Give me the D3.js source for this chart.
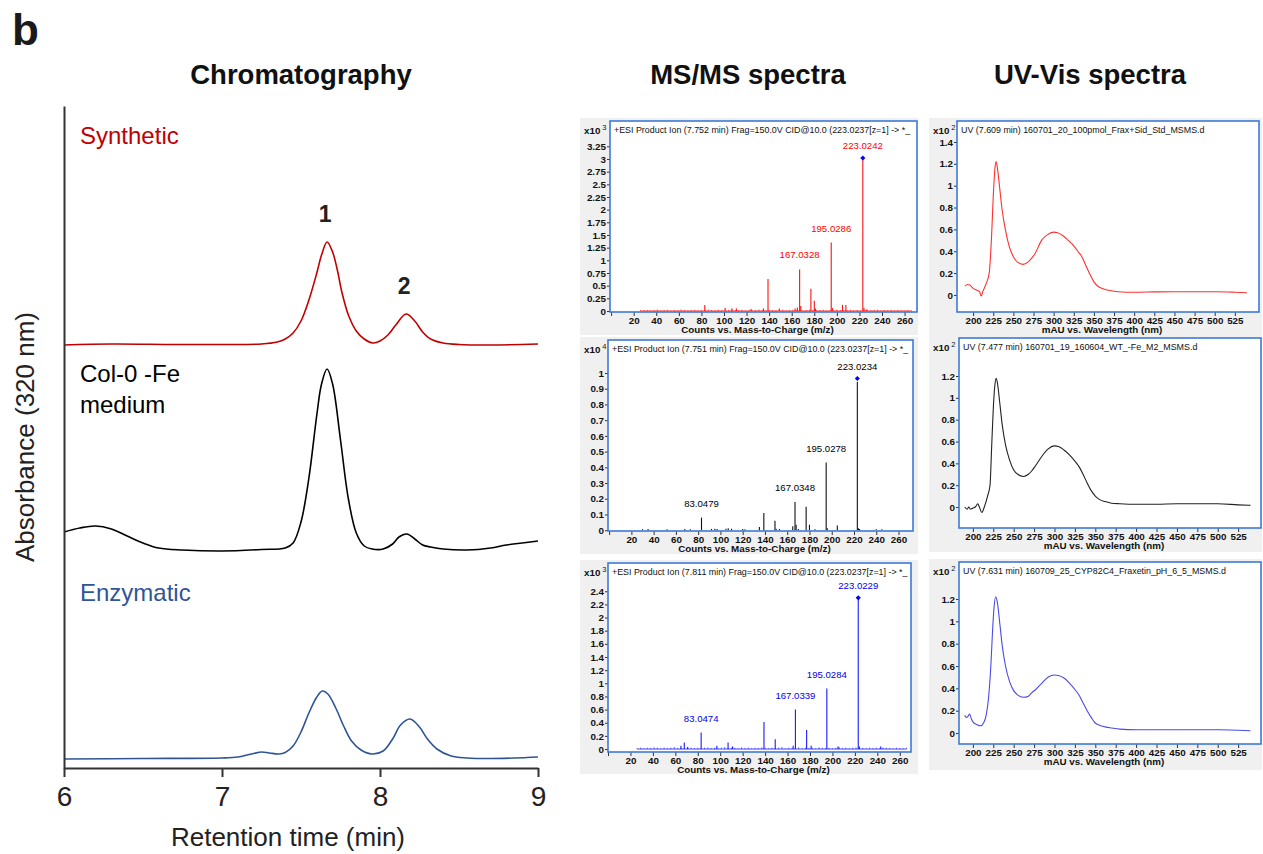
<!DOCTYPE html>
<html>
<head>
<meta charset="utf-8">
<script src="https://cdn.jsdelivr.net/npm/d3@7"></script>
<style>
  body { margin: 0; background: #fff; }
  svg { display: block; font-family: "Liberation Sans", Arial, sans-serif; }
</style>
</head>
<body>
<script>
// ---- chromatography (retention time, absorbance in arbitrary stacked units)
const chromTicks = [6, 7, 8, 9];
const synthetic = [[6.0,423],[6.3,424],[6.7,423.5],[7.0,423.5],[7.25,424],[7.35,426],[7.4,429],[7.45,435],[7.5,447],[7.55,468],[7.6,495],[7.63,513],[7.665,526],[7.7,516],[7.73,498],[7.76,475],[7.8,453],[7.85,437],[7.9,429],[7.955,425],[8.0,427],[8.05,433],[8.1,443],[8.165,454],[8.22,447],[8.27,436],[8.32,429],[8.4,425],[8.5,423.5],[8.7,423],[9.0,424]];
const medium = [[6.0,236],[6.1,240],[6.2,242],[6.3,239],[6.4,232],[6.5,225],[6.6,220],[6.75,218],[7.0,217],[7.25,218.5],[7.4,220],[7.45,225],[7.5,246],[7.55,290],[7.6,353],[7.63,384],[7.665,399],[7.7,384],[7.75,328],[7.8,269],[7.85,235],[7.9,222],[7.95,219],[8.02,219],[8.08,224],[8.12,231],[8.17,234],[8.22,229],[8.27,223],[8.32,221],[8.4,219],[8.55,218],[8.7,220],[8.8,223],[9.0,227]];
const enzymatic = [[6.0,9],[6.5,9.5],[7.0,10],[7.1,11],[7.2,14.5],[7.25,16],[7.3,15],[7.36,14],[7.4,15.5],[7.45,22],[7.5,36],[7.55,55],[7.6,71],[7.635,77],[7.67,74],[7.72,60],[7.77,42],[7.82,27],[7.88,18],[7.95,14],[8.02,17],[8.08,29],[8.13,43],[8.19,49],[8.25,41],[8.3,29],[8.36,19],[8.45,12],[8.55,10],[8.7,9.5],[8.85,10],[9.0,11]];
const peakNumbers = [[7.665, 526, '1'], [8.165, 454, '2']];

// ---- MS/MS spectra: [m/z, counts]
const mzTicks = [0,20,40,60,80,100,120,140,160,180,200,220,240,260];
const msSynthetic = [[83,0.12],[101,0.06],[107,0.05],[111,0.05],[124,0.04],[135,0.05],[139,0.63],[149,0.05],[163,0.05],[165,0.07],[167,0.82],[168,0.1],[177,0.44],[180,0.2],[181,0.05],[195,1.35],[196,0.06],[205,0.12],[208,0.12],[223,3.0],[224,0.06],[226,0.03]];
const msMedium = [[30,0.006],[35,0.008],[52,0.006],[68,0.008],[73,0.006],[83,0.08],[92,0.008],[95,0.01],[97,0.008],[105,0.01],[107,0.012],[110,0.01],[120,0.008],[122,0.006],[135,0.02],[139,0.11],[149,0.06],[150,0.01],[153,0.008],[165,0.025],[167,0.18],[168,0.035],[170,0.008],[177,0.15],[180,0.035],[185,0.006],[195,0.43],[196,0.012],[205,0.03],[223,0.945],[224,0.012],[225,0.008],[240,0.006],[245,0.006]];
const msEnzymatic = [[65,0.05],[68,0.1],[71,0.03],[83,0.25],[97,0.05],[107,0.1],[111,0.04],[139,0.41],[149,0.15],[165,0.05],[167,0.6],[177,0.29],[181,0.05],[195,0.92],[205,0.04],[223,2.27],[224,0.04],[243,0.04]];
const grassStart = 26, grassStep = 3;
const grassSynthetic = [0.02,0.015,0.02,0.01,0.02,0.03,0.015,0.02,0.025,0.01,0.02,0.015,0.03,0.02,0.01,0.02,0.025,0.015,0.02,0.01,0.03,0.02,0.015,0.025,0.02,0.01,0.02,0.03,0.015,0.02,0.025,0.01,0.02,0.015,0.02,0.03,0.02,0.01,0.025,0.02,0.015,0.02,0.03,0.01,0.02,0.025,0.015,0.02,0.01,0.02,0.03,0.02,0.015,0.02,0.025,0.01,0.02,0.015,0.03,0.02,0.01,0.02,0.025,0.015,0.02,0.01,0.02,0.03,0.015,0.02,0.025,0.01,0.02,0.015,0.02,0.01,0.02,0.015,0.01,0.02,0.015];
const grassEnzymatic = [0.015,0.02,0.01,0.02,0.015,0.025,0.02,0.01,0.02,0.015,0.02,0.03,0.015,0.02,0.01,0.025,0.02,0.015,0.02,0.01,0.02,0.025,0.015,0.02,0.01,0.02,0.03,0.015,0.02,0.02,0.01,0.025,0.015,0.02,0.01,0.02,0.015,0.025,0.02,0.01,0.02,0.015,0.02,0.03,0.01,0.02,0.015,0.02,0.025,0.01,0.02,0.015,0.02,0.01,0.025,0.02,0.015,0.02,0.01,0.02,0.03,0.015,0.02,0.01,0.02,0.025,0.015,0.02,0.01,0.02,0.015,0.02,0.01,0.025,0.02,0.015,0.01,0.02,0.015,0.01,0.02];
const labelsSynthetic = [[223,'223.0242'],[195,'195.0286'],[167,'167.0328']];
const labelsMedium = [[223,'223.0234'],[195,'195.0278'],[167,'167.0348'],[83,'83.0479']];
const labelsEnzymatic = [[223,'223.0229'],[195,'195.0284'],[167,'167.0339'],[83,'83.0474']];
const precursorTops = [3.02, 0.965, 2.3];
const msTicksSynthetic = [0,0.25,0.5,0.75,1,1.25,1.5,1.75,2,2.25,2.5,2.75,3,3.25];
const msTicksMedium = [0,0.1,0.2,0.3,0.4,0.5,0.6,0.7,0.8,0.9,1];
const msTicksEnzymatic = [0,0.2,0.4,0.6,0.8,1,1.2,1.4,1.6,1.8,2,2.2,2.4];
const msHeaders = [
  '+ESI Product Ion (7.752 min) Frag=150.0V CID@10.0 (223.0237[z=1] -> *_',
  '+ESI Product Ion (7.751 min) Frag=150.0V CID@10.0 (223.0237[z=1] -> *_',
  '+ESI Product Ion (7.811 min) Frag=150.0V CID@10.0 (223.0237[z=1] -> *_'
];
const msExponents = ['3', '4', '3'];

// ---- UV-Vis spectra: [wavelength nm, mAU x10^2]
const nmTicks = [200,225,250,275,300,325,350,375,400,425,450,475,500,525];
const uvSynthetic = [[190,0.08],[193,0.095],[196,0.09],[200,0.06],[204,0.045],[208,0.03],[210,-0.01],[212,0.03],[216,0.1],[220,0.2],[223,0.55],[225,0.9],[227,1.15],[228.5,1.22],[230,1.17],[233,0.98],[236,0.78],[240,0.6],[245,0.44],[250,0.35],[255,0.3],[262,0.28],[268,0.3],[272,0.33],[277,0.38],[285,0.5],[292,0.55],[300,0.575],[305,0.57],[312,0.54],[318,0.5],[325,0.45],[330,0.4],[335,0.35],[340,0.27],[345,0.19],[350,0.12],[355,0.08],[362,0.055],[370,0.04],[380,0.03],[400,0.025],[425,0.028],[450,0.03],[475,0.03],[500,0.03],[525,0.025],[540,0.02]];
const uvMedium = [[190,0.0],[193,-0.02],[195,0.0],[197,-0.02],[200,-0.01],[203,0.0],[206,0.03],[208,0.0],[211,-0.05],[214,0.0],[218,0.1],[221,0.2],[223,0.55],[225,0.9],[227,1.12],[228.5,1.18],[230,1.14],[233,0.95],[236,0.75],[240,0.57],[245,0.43],[250,0.34],[255,0.3],[262,0.28],[268,0.3],[272,0.33],[277,0.38],[285,0.47],[292,0.53],[300,0.56],[305,0.555],[312,0.52],[318,0.48],[325,0.42],[330,0.37],[335,0.3],[340,0.22],[345,0.15],[350,0.1],[355,0.07],[362,0.05],[370,0.035],[380,0.03],[400,0.025],[425,0.025],[450,0.03],[475,0.03],[500,0.03],[525,0.02],[540,0.015]];
const uvEnzymatic = [[190,0.16],[192,0.14],[194,0.15],[196,0.17],[198,0.13],[200,0.1],[205,0.075],[210,0.065],[213,0.09],[216,0.15],[219,0.3],[222,0.6],[224,0.9],[226,1.13],[228,1.22],[230,1.17],[233,0.98],[236,0.78],[240,0.6],[245,0.46],[250,0.38],[255,0.34],[262,0.32],[268,0.33],[272,0.36],[277,0.39],[285,0.45],[292,0.5],[300,0.52],[305,0.515],[312,0.49],[318,0.45],[325,0.39],[330,0.34],[335,0.27],[340,0.2],[345,0.14],[350,0.09],[355,0.07],[362,0.055],[370,0.045],[380,0.035],[400,0.03],[425,0.03],[450,0.03],[475,0.03],[500,0.03],[525,0.025],[540,0.02]];
const uvTicksSynthetic = [0,0.2,0.4,0.6,0.8,1,1.2,1.4];
const uvTicksOther = [0,0.2,0.4,0.6,0.8,1,1.2];
const uvHeaders = [
  'UV (7.609 min) 160701_20_100pmol_Frax+Sid_Std_MSMS.d',
  'UV (7.477 min) 160701_19_160604_WT_-Fe_M2_MSMS.d',
  'UV (7.631 min) 160709_25_CYP82C4_Fraxetin_pH_6_5_MSMS.d'
];

const svg = d3.select('body').append('svg')
    .attr('width', 1263)
    .attr('height', 854);

svg.append('rect').attr('width', 1263).attr('height', 854).attr('fill', '#fff');

svg.append('text')
    .attr('x', 12).attr('y', 45)
    .attr('font-size', 44).attr('font-weight', 'bold').attr('fill', '#1a1a1a')
    .text('b');

[['Chromatography', 301], ['MS/MS spectra', 748], ['UV-Vis spectra', 1090]].forEach(([t, cx]) => {
    svg.append('text')
        .attr('x', cx).attr('y', 84)
        .attr('text-anchor', 'middle')
        .attr('font-size', 27.5).attr('font-weight', 'bold').attr('fill', '#111')
        .text(t);
});

function drawChromatography() {
    let x = d3.scaleLinear().domain([6, 9]).range([64, 538]);
    let y = d3.scaleLinear().domain([0, 662]).range([768, 106]);
    let line = d3.line()
        .x(d => x(d[0]))
        .y(d => y(d[1]))
        .curve(d3.curveCatmullRom.alpha(0.5));

    let traces = [
        {data: synthetic, color: '#c00000'},
        {data: medium, color: '#000000'},
        {data: enzymatic, color: '#2f5597'}
    ];
    svg.append('g').selectAll('path')
        .data(traces)
        .join('path')
        .attr('d', d => line(d.data))
        .attr('fill', 'none')
        .attr('stroke', d => d.color)
        .attr('stroke-width', 1.6);

    let yAxis = svg.append('g')
        .attr('transform', `translate(${x(6)},0)`)
        .call(d3.axisLeft(y).tickValues([]).tickSizeOuter(0));
    yAxis.select('.domain').attr('stroke', '#333').attr('stroke-width', 2);

    let xAxis = svg.append('g')
        .attr('transform', `translate(0,${y(0)})`)
        .call(d3.axisBottom(x).tickValues(chromTicks).tickFormat(d3.format('d'))
            .tickSize(9).tickSizeOuter(0).tickPadding(9));
    xAxis.select('.domain').attr('stroke', '#333').attr('stroke-width', 2);
    xAxis.selectAll('.tick line').attr('stroke', '#333').attr('stroke-width', 2);
    xAxis.selectAll('.tick text')
        .attr('font-size', 28).attr('fill', '#222')
        .attr('font-family', '"Liberation Sans", Arial, sans-serif');

    svg.append('text')
        .attr('x', 288).attr('y', 846)
        .attr('text-anchor', 'middle')
        .attr('font-size', 26).attr('fill', '#222')
        .text('Retention time (min)');

    svg.append('text')
        .attr('transform', 'translate(34,437) rotate(-90)')
        .attr('text-anchor', 'middle')
        .attr('font-size', 26).attr('fill', '#222')
        .text('Absorbance (320 nm)');

    let names = [
        {lines: ['Synthetic'], y: 144, color: '#c00000'},
        {lines: ['Col-0 -Fe', 'medium'], y: 382, color: '#000'},
        {lines: ['Enzymatic'], y: 601, color: '#2f5597'}
    ];
    names.forEach(n => {
        n.lines.forEach((t, i) => {
            svg.append('text')
                .attr('x', 80).attr('y', n.y + i * 31)
                .attr('font-size', 24).attr('fill', n.color)
                .text(t);
        });
    });

    svg.append('g').selectAll('text')
        .data(peakNumbers)
        .join('text')
        .attr('x', d => x(d[0]) - 2)
        .attr('y', d => y(d[1]) - 20)
        .attr('text-anchor', 'middle')
        .attr('font-size', 23).attr('font-weight', 'bold').attr('fill', '#222')
        .text(d => d[2]);
}

function panelFrame(p) {
    let [bx0, by0, bx1, by1] = p.box;
    let [gx0, gy0, gx1, gy1] = p.bg;
    let g = svg.append('g');
    g.append('rect')
        .attr('x', gx0).attr('y', gy0)
        .attr('width', gx1 - gx0).attr('height', gy1 - gy0)
        .attr('fill', '#f0f0f0');
    g.append('rect')
        .attr('x', bx0).attr('y', by0)
        .attr('width', bx1 - bx0).attr('height', by1 - by0)
        .attr('fill', '#fff');
    return g;
}

function panelAxes(g, p, x, y, xTicks, xFmt) {
    let [bx0, by0, bx1, by1] = p.box;
    let ya = g.append('g')
        .attr('transform', `translate(${bx0},0)`)
        .call(d3.axisLeft(y).tickValues(p.yTicks).tickSize(3).tickPadding(1).tickFormat(d => String(d)));
    let xa = g.append('g')
        .attr('transform', `translate(0,${by1})`)
        .call(d3.axisBottom(x).tickValues(xTicks).tickSize(4).tickPadding(1).tickFormat(xFmt));
    [ya, xa].forEach(a => {
        a.select('.domain').remove();
        a.selectAll('.tick line').attr('stroke', '#333');
        a.selectAll('.tick text')
            .attr('font-size', 9.8).attr('font-weight', 'bold').attr('fill', '#111')
            .attr('font-family', '"Liberation Sans", Arial, sans-serif');
    });

    // frame border
    g.append('rect')
        .attr('x', bx0).attr('y', by0)
        .attr('width', bx1 - bx0).attr('height', by1 - by0)
        .attr('fill', 'none')
        .attr('stroke', '#3f7ad6').attr('stroke-width', 1.6);

    let ex = g.append('text')
        .attr('x', p.bg[0] + 4).attr('y', by0 + 13)
        .attr('font-size', 9.8).attr('font-weight', 'bold').attr('fill', '#111');
    ex.append('tspan').text('x10');
    ex.append('tspan').attr('dx', 2).attr('dy', -4).attr('font-size', 7.5).attr('font-weight', 'normal').text(p.exp);

    g.append('text')
        .attr('x', bx0 + 4).attr('y', by0 + 12)
        .attr('font-size', 8.9).attr('fill', '#111')
        .text(p.header);

    g.append('text')
        .attr('x', (bx0 + bx1) / 2 - 6).attr('y', by1 + 21)
        .attr('text-anchor', 'middle')
        .attr('font-size', 9.8).attr('font-weight', 'bold').attr('fill', '#111')
        .text(p.xLabel);
}

function drawMS(p) {
    let g = panelFrame(p);
    let [bx0, by0, bx1, by1] = p.box;
    let x = d3.scaleLinear().domain(p.xDomain).range([bx0, bx1]);
    let y = d3.scaleLinear().domain(p.yDomain).range([by1, by0]);

    if (p.grass) {
        let grass = p.grass.map((h, i) => [grassStart + i * grassStep, h]);
        g.append('line')
            .attr('x1', x(grass[0][0])).attr('x2', x(grass[grass.length - 1][0]))
            .attr('y1', y(0)).attr('y2', y(0))
            .attr('stroke', p.color).attr('stroke-width', 1).attr('opacity', 0.8);
        g.append('g').selectAll('line')
            .data(grass)
            .join('line')
            .attr('x1', d => x(d[0])).attr('x2', d => x(d[0]))
            .attr('y1', y(0)).attr('y2', d => y(d[1]))
            .attr('stroke', p.color).attr('stroke-width', 1).attr('opacity', 0.7);
    }

    g.append('g').selectAll('line')
        .data(p.peaks)
        .join('line')
        .attr('x1', d => x(d[0])).attr('x2', d => x(d[0]))
        .attr('y1', y(0)).attr('y2', d => y(d[1]))
        .attr('stroke', p.color).attr('stroke-width', 1.1);

    let prec = p.peaks.find(d => d[0] === 223);
    g.append('path')
        .attr('d', d3.symbol(d3.symbolSquare, 13)())
        .attr('transform', `translate(${x(prec[0])},${y(p.precursorTop)}) rotate(45)`)
        .attr('fill', '#0000ff');

    g.append('g').selectAll('text')
        .data(p.labels)
        .join('text')
        .attr('x', d => x(d[0]))
        .attr('y', d => d[0] === 223
            ? y(p.precursorTop) - 9
            : y(p.peaks.find(q => q[0] === d[0])[1]) - 11)
        .attr('text-anchor', 'middle')
        .attr('font-size', 9.6).attr('fill', p.labelColor)
        .text(d => d[1]);

    panelAxes(g, p, x, y, mzTicks, d => d === 0 ? '' : String(d));
}

function drawUV(p) {
    let g = panelFrame(p);
    let [bx0, by0, bx1, by1] = p.box;
    let x = d3.scaleLinear().domain(p.xDomain).range([bx0, bx1]);
    let y = d3.scaleLinear().domain(p.yDomain).range([by1, by0]);
    let line = d3.line()
        .x(d => x(d[0]))
        .y(d => y(d[1]))
        .curve(d3.curveMonotoneX);
    g.append('path')
        .attr('d', line(p.data))
        .attr('fill', 'none')
        .attr('stroke', p.color)
        .attr('stroke-width', 1.1);
    panelAxes(g, p, x, y, nmTicks, d => String(d));
}

drawChromatography();

let msPanels = [
    {peaks: msSynthetic, grass: grassSynthetic, labels: labelsSynthetic, precursorTop: precursorTops[0],
     color: '#ff1010', labelColor: '#ff0000', yTicks: msTicksSynthetic,
     xDomain: [-1, 271], yDomain: [-0.02, 3.75], box: [610, 121, 917, 312], bg: [580, 118, 918, 335]},
    {peaks: msMedium, grass: null, labels: labelsMedium, precursorTop: precursorTops[1],
     color: '#111', labelColor: '#000', yTicks: msTicksMedium,
     xDomain: [-1, 273], yDomain: [-0.005, 1.21], box: [608, 340, 913, 531], bg: [580, 337, 918, 554]},
    {peaks: msEnzymatic, grass: grassEnzymatic, labels: labelsEnzymatic, precursorTop: precursorTops[2],
     color: '#1a1aff', labelColor: '#0000ee', yTicks: msTicksEnzymatic,
     xDomain: [0, 270], yDomain: [-0.045, 2.83], box: [608, 563, 911, 752], bg: [580, 560, 918, 774]}
];
msPanels.forEach((p, i) => {
    p.header = msHeaders[i];
    p.exp = msExponents[i];
    p.xLabel = 'Counts vs. Mass-to-Charge (m/z)';
    drawMS(p);
});

let uvPanels = [
    {data: uvSynthetic, color: '#ff3030', yTicks: uvTicksSynthetic,
     xDomain: [180, 555], yDomain: [-0.156, 1.592], box: [957, 121, 1259, 312], bg: [929, 118, 1262, 335]},
    {data: uvMedium, color: '#222', yTicks: uvTicksOther,
     xDomain: [183, 553], yDomain: [-0.192, 1.548], box: [959, 338, 1261, 528], bg: [929, 335, 1262, 552]},
    {data: uvEnzymatic, color: '#4a4ae8', yTicks: uvTicksOther,
     xDomain: [183, 553], yDomain: [-0.098, 1.531], box: [959, 562, 1261, 744], bg: [929, 559, 1262, 770]}
];
uvPanels.forEach((p, i) => {
    p.header = uvHeaders[i];
    p.exp = '2';
    p.xLabel = 'mAU vs. Wavelength (nm)';
    drawUV(p);
});
</script>
</body>
</html>
